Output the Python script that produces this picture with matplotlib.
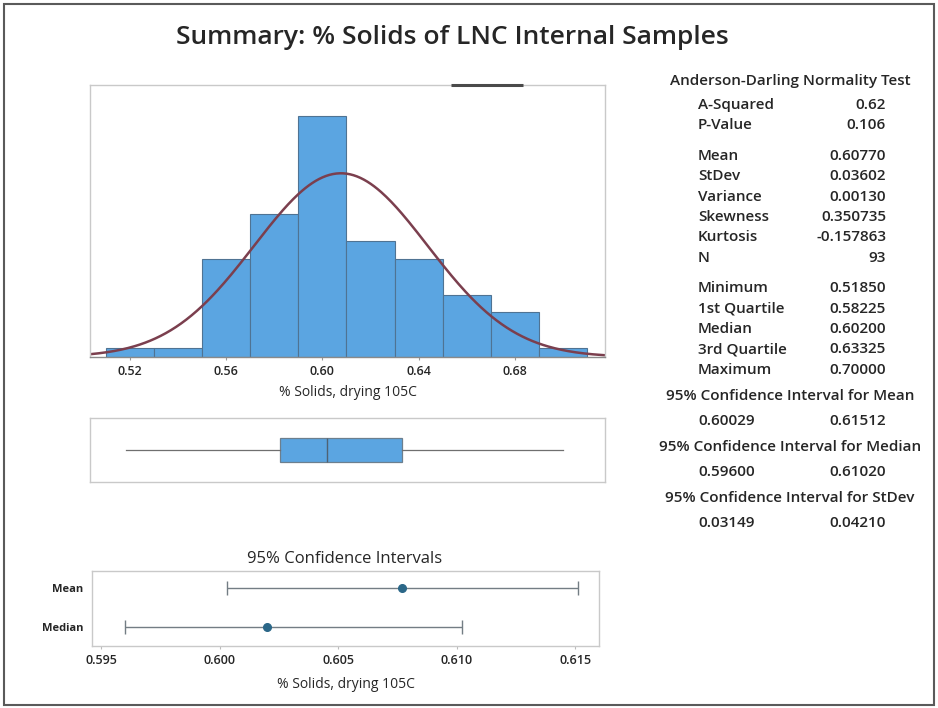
import numpy as np
import matplotlib
matplotlib.use('Agg')
import matplotlib.pyplot as plt
from matplotlib.patches import Rectangle

plt.rcParams['font.family'] = ['Open Sans', 'DejaVu Sans']

# histogram of % solids (drying 105C)
bin_edges = [0.51, 0.53, 0.55, 0.57, 0.59, 0.61, 0.63, 0.65, 0.67, 0.69, 0.71]
bin_counts = [1, 1, 11, 16, 27, 13, 11, 7, 5, 1]
n_obs = 93
mean = 0.60770
stdev = 0.03602

# five number summary for the boxplot
minimum = 0.51850
q1 = 0.58225
median = 0.60200
q3 = 0.63325
maximum = 0.70000

# 95% confidence intervals
ci_names = ['Mean', 'Median']
ci_center = [0.60770, 0.60200]
ci_low = [0.60029, 0.59600]
ci_high = [0.61512, 0.61020]

# summary table on the right
ad_rows = [('A-Squared', '0.62'), ('P-Value', '0.106')]
moment_rows = [('Mean', '0.60770'), ('StDev', '0.03602'), ('Variance', '0.00130'),
               ('Skewness', '0.350735'), ('Kurtosis', '-0.157863'), ('N', '93')]
quant_rows = [('Minimum', '0.51850'), ('1st Quartile', '0.58225'), ('Median', '0.60200'),
              ('3rd Quartile', '0.63325'), ('Maximum', '0.70000')]
ci_titles = ['95% Confidence Interval for Mean', '95% Confidence Interval for Median',
             '95% Confidence Interval for StDev']
ci_values = [('0.60029', '0.61512'), ('0.59600', '0.61020'), ('0.03149', '0.04210')]

hist_ticks = [0.52, 0.56, 0.60, 0.64, 0.68]
ci_ticks = [0.595, 0.600, 0.605, 0.610, 0.615]

W, H = 938, 708
BAR = '#5ba5e1'
EDGE = '#4f7393'
CURVE = '#7b3f4e'
FRAME = '#c9c9c9'
TXT = '#262626'

fig = plt.figure(figsize=(W / 100, H / 100), dpi=100)


def ax_at(x0, y0, x1, y1):
    return fig.add_axes([x0 / W, 1 - y1 / H, (x1 - x0) / W, (y1 - y0) / H])


def txt(x, y, s, **kw):
    kw.setdefault('color', TXT)
    kw.setdefault('va', 'center')
    fig.text(x / W, 1 - y / H, s, **kw)


def frame(ax):
    for sp in ax.spines.values():
        sp.set_color(FRAME)
        sp.set_linewidth(1.0)


# outer border
fig.patches.append(Rectangle((4 / W, 3 / H), 930 / W, 701 / H, transform=fig.transFigure,
                             fill=False, edgecolor='#5a5a5a', linewidth=1.5))

txt(452, 38, 'Summary: % Solids of LNC Internal Samples', ha='center', fontsize=19,
    fontweight='semibold')

# histogram
xlim = (0.5034, 0.7175)
ax = ax_at(90, 85, 605, 357)
ax.bar(bin_edges[:-1], bin_counts, width=np.diff(bin_edges), align='edge',
       color=BAR, edgecolor=EDGE, linewidth=0.8)
xs = np.linspace(xlim[0], xlim[1], 300)
binw = bin_edges[1] - bin_edges[0]
pdf = n_obs * binw * np.exp(-0.5 * ((xs - mean) / stdev) ** 2) / (stdev * np.sqrt(2 * np.pi))
ax.plot(xs, pdf, color=CURVE, linewidth=1.8)
ax.set_xlim(xlim)
ax.set_ylim(0, 30.5)
ax.set_yticks([])
ax.set_xticks(hist_ticks)
ax.set_xticklabels(['%.2f' % t for t in hist_ticks], fontweight='semibold')
ax.tick_params(axis='x', length=2, color='#999999', labelsize=9, labelcolor=TXT, pad=4)
frame(ax)
ax.spines['bottom'].set_color('#8a8a8a')
# dark stub sitting on the top border
ax.plot([0.70, 0.84], [1, 1], transform=ax.transAxes, color='#4a4a4a', linewidth=2.2,
        clip_on=False, zorder=5, solid_capstyle='butt')
ax.set_xlabel('% Solids, drying 105C', fontsize=10, color=TXT, labelpad=5)

# boxplot
bx = ax_at(90, 418, 605, 482)
bx.bxp([{'med': median, 'q1': q1, 'q3': q3, 'whislo': minimum, 'whishi': maximum, 'fliers': []}],
       orientation='horizontal', widths=0.36, patch_artist=True, showcaps=False,
       boxprops=dict(facecolor=BAR, edgecolor='#6c7f8e', linewidth=0.9),
       medianprops=dict(color='#4f6273', linewidth=1.0),
       whiskerprops=dict(color='#6f6f6f', linewidth=0.9))
bx.set_xlim(xlim)
bx.set_ylim(0.5, 1.5)
bx.set_xticks([])
bx.set_yticks([])
frame(bx)

# confidence intervals
cx = ax_at(92, 571, 599, 646)
ypos = [1, 0]
cx.errorbar(ci_center, ypos,
            xerr=[np.array(ci_center) - np.array(ci_low), np.array(ci_high) - np.array(ci_center)],
            fmt='o', color='#2b6788', markersize=5.5, ecolor='#737d84', elinewidth=1.0,
            capsize=5, capthick=1.0)
cx.set_xlim(0.5946, 0.6160)
cx.set_ylim(-0.48, 1.44)
cx.set_xticks(ci_ticks)
cx.set_xticklabels(['%.3f' % t for t in ci_ticks], fontweight='semibold')
cx.set_yticks(ypos)
cx.set_yticklabels(ci_names, fontweight='bold')
cx.tick_params(axis='x', length=2, color='#bbbbbb', labelsize=9, labelcolor=TXT, pad=4)
cx.tick_params(axis='y', length=0, labelsize=8, labelcolor=TXT, pad=6)
frame(cx)
cx.set_xlabel('% Solids, drying 105C', fontsize=10, color=TXT, labelpad=7)
txt(345, 559, '95% Confidence Intervals', ha='center', fontsize=12)

# summary table
lx, vx, cxm = 698, 886, 790
txt(cxm, 81, 'Anderson-Darling Normality Test', ha='center', fontsize=11, fontweight='semibold')
step, gap = 20.4, 10
y = 105
for group in (ad_rows, moment_rows, quant_rows):
    for lab, val in group:
        txt(lx, y, lab, ha='left', fontsize=11, fontweight='semibold')
        txt(vx, y, val, ha='right', fontsize=11, fontweight='semibold')
        y += step
    y += gap
y -= step + gap
for title, (lo, hi) in zip(ci_titles, ci_values):
    y += 26
    txt(cxm, y, title, ha='center', fontsize=11, fontweight='semibold')
    y += 25
    txt(lx, y, lo, ha='left', fontsize=11, fontweight='semibold')
    txt(vx, y, hi, ha='right', fontsize=11, fontweight='semibold')

fig.savefig('out.png', dpi=100)
